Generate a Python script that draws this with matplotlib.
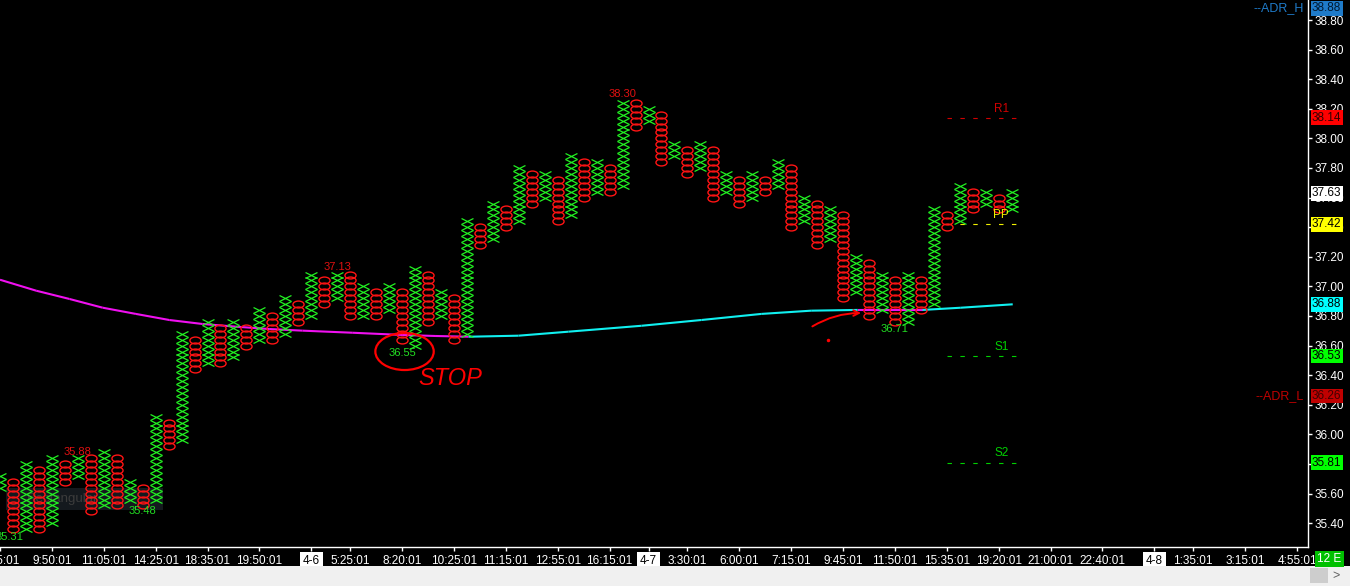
import numpy as np
import matplotlib
matplotlib.use("Agg")
import matplotlib.pyplot as plt
from matplotlib.path import Path
from matplotlib.transforms import Affine2D, blended_transform_factory
from matplotlib.patches import Ellipse, Rectangle

plt.rcParams["font.family"] = ["Liberation Sans", "DejaVu Sans"]

# ── data ─────────────────────────────────────────────────────
BOX = 0.04          # box size
FIRST_COL = -1      # first column (X), then alternating O / X

col_low = [35.64, 35.36, 35.36, 35.36, 35.40, 35.68, 35.72, 35.48, 35.52, 35.52,
           35.56, 35.52, 35.56, 35.92, 35.96, 36.44, 36.48, 36.48, 36.52, 36.60,
           36.64, 36.64, 36.68, 36.76, 36.80, 36.88, 36.92, 36.80, 36.80, 36.80,
           36.84, 36.64, 36.60, 36.76, 36.80, 36.64, 36.68, 37.28, 37.32, 37.40,
           37.44, 37.56, 37.60, 37.44, 37.48, 37.60, 37.64, 37.64, 37.68, 38.08,
           38.12, 37.84, 37.88, 37.76, 37.80, 37.60, 37.64, 37.56, 37.60, 37.64,
           37.68, 37.40, 37.44, 37.28, 37.32, 36.92, 36.96, 36.80, 36.84, 36.76,
           36.76, 36.84, 36.88, 37.40, 37.44, 37.52, 37.56, 37.52, 37.52]
col_high = [35.72, 35.68, 35.80, 35.76, 35.84, 35.80, 35.84, 35.84, 35.88, 35.84,
            35.68, 35.64, 36.12, 36.08, 36.68, 36.64, 36.76, 36.72, 36.76, 36.72,
            36.84, 36.80, 36.92, 36.88, 37.08, 37.04, 37.08, 37.08, 37.00, 36.96,
            37.00, 36.96, 37.12, 37.08, 36.96, 36.92, 37.44, 37.40, 37.56, 37.52,
            37.80, 37.76, 37.76, 37.72, 37.88, 37.84, 37.84, 37.80, 38.24, 38.24,
            38.20, 38.16, 37.96, 37.92, 37.96, 37.92, 37.76, 37.72, 37.76, 37.72,
            37.84, 37.80, 37.60, 37.56, 37.52, 37.48, 37.20, 37.16, 37.08, 37.04,
            37.08, 37.04, 37.52, 37.48, 37.68, 37.64, 37.64, 37.60, 37.64]

# swing high / low labels
swing_cols = [-0.25, 5, 10, 25, 30, 47, 68]
swing_vals = [35.31, 35.88, 35.48, 37.13, 36.55, 38.30, 36.71]
swing_high = [False, True, False, True, False, True, False]

# moving average
ma_cols = [-1.0, 1.79, 4.36, 6.92, 9.48, 12.05, 14.62, 17.18, 19.75, 22.31,
           26.15, 30.0, 32.54, 35.13, 38.98, 42.82, 48.46, 53.08, 57.69, 61.54,
           65.13, 70.13, 73.08, 77.08]
ma_vals = [37.045, 36.971, 36.915, 36.856, 36.814, 36.773, 36.746, 36.728, 36.712, 36.701,
           36.687, 36.672, 36.665, 36.660, 36.667, 36.694, 36.734, 36.773, 36.814, 36.836,
           36.841, 36.841, 36.856, 36.879]

# pivot levels
level_names = ["R1", "PP", "S1", "S2"]
level_vals = [38.14, 37.42, 36.53, 35.81]
level_span = (72, 77.5)

# price tags on the right axis
tag_vals = [38.88, 38.14, 37.63, 37.42, 36.88, 36.53, 36.26, 35.81]

y_ticks = [35.40, 35.60, 35.80, 36.00, 36.20, 36.40, 36.60, 36.80, 37.00,
           37.20, 37.40, 37.60, 37.80, 38.00, 38.20, 38.40, 38.60, 38.80]
x_tick_cols = [-1, 3, 7, 11, 15, 19, 23, 26, 30, 34, 38, 42, 46, 49, 52, 56,
               60, 64, 68, 72, 76, 80, 84, 88, 91, 95, 99]
x_tick_labels = ["8:35:01", "9:50:01", "11:05:01", "14:25:01", "18:35:01", "19:50:01",
                 "4-6", "5:25:01", "8:20:01", "10:25:01", "11:15:01", "12:55:01",
                 "16:15:01", "4-7", "3:30:01", "6:00:01", "7:15:01", "9:45:01",
                 "11:50:01", "15:35:01", "19:20:01", "21:00:01", "22:40:01", "4-8",
                 "1:35:01", "3:15:01", "4:55:01"]

# ── style ────────────────────────────────────────────────────
C = {
    "x": "#22F022",
    "o": "#FF1414",
    "lbl_red": "#E01010",
    "lbl_green": "#22DD22",
    "magenta": "#F010F0",
    "cyan": "#10F0F0",
    "axis": "#FFFFFF",
}
tag_style = {
    38.88: ("#1F7BC9", "#001830"),
    38.14: ("#FF0000", "#300000"),
    37.63: ("#FFFFFF", "#000000"),
    37.42: ("#FFFF00", "#000000"),
    36.88: ("#00FFFF", "#000000"),
    36.53: ("#00FF00", "#000000"),
    36.26: ("#C00000", "#400000"),
    35.81: ("#00FF00", "#000000"),
}
level_color = {"R1": "#D00000", "PP": "#F0F000", "S1": "#00D000", "S2": "#00D000"}

X_MARK = Path([(-1, -0.5), (1, 0.5), (-1, 0.5), (1, -0.5)],
              [Path.MOVETO, Path.LINETO, Path.MOVETO, Path.LINETO])
O_MARK = Path.unit_circle().transformed(Affine2D().scale(1, 0.62))

W, H = 1350, 586
fig = plt.figure(figsize=(W / 100, H / 100), dpi=100, facecolor="black")
ax = fig.add_axes([0, 39 / H, 1308 / W, 547 / H])
ax.set_facecolor("black")
ax.set_xlim(-10 / 13, 1298 / 13)
ax.set_ylim(38.80 - 527 / 148, 38.80 + 20 / 148)

# faint leftover tooltip box
ax.add_patch(Rectangle((-0.55, 35.49), 12.1, 0.15, fc="#14191e", ec="none", zorder=1))
ax.text(1.1, 35.565, "Rectangular", color="#3c3c3c", fontsize=9.5, va="center", zorder=1.5)

# ── point & figure columns ───────────────────────────────────
for i, (lo, hi) in enumerate(zip(col_low, col_high)):
    col = FIRST_COL + i
    n = int(round((hi - lo) / BOX)) + 1
    ys = lo + BOX * np.arange(n)
    if i % 2 == 0:
        ax.plot(np.full(n, col), ys, ls="none", marker=X_MARK, ms=8.6,
                mec=C["x"], mfc="none", mew=0.9, zorder=3)
    else:
        ax.plot(np.full(n, col), ys, ls="none", marker=O_MARK, ms=8.0,
                mec=C["o"], mfc="none", mew=1.0, zorder=3)

for c, v, hi in zip(swing_cols, swing_vals, swing_high):
    ax.text(c, v, f"{v:.2f}", ha="center", va="center", fontsize=8,
            color=C["lbl_red"] if hi else C["lbl_green"], zorder=4)

# ── moving average, coloured by slope ────────────────────────
for k in range(len(ma_cols) - 1):
    rising = ma_vals[k + 1] > ma_vals[k]
    ax.plot(ma_cols[k:k + 2], ma_vals[k:k + 2], lw=1.5,
            color=C["cyan"] if rising else C["magenta"],
            solid_capstyle="butt", zorder=2)

# ── pivot levels ─────────────────────────────────────────────
for name, v in zip(level_names, level_vals):
    col = level_color[name]
    ax.plot(level_span, [v, v], color=col, lw=0.8, dashes=(4.0, 7.6), zorder=2)
    ax.annotate(name, (76.2, v), xytext=(0, 6.5), textcoords="offset points",
                ha="center", va="center", fontsize=8.5, color=col)

# ── hand drawn notes ─────────────────────────────────────────
ax.add_patch(Ellipse((30.19, 36.56), 4.5, 0.25, fill=False, ec="#FF0000", lw=1.6, zorder=5))
ax.text(33.7, 36.38, "STOP", color="#FF0000", fontsize=17, style="italic",
        ha="center", va="center", zorder=5)
ax.annotate("", xy=(65.6, 36.82), xytext=(61.45, 36.72),
            arrowprops=dict(arrowstyle="->", color="#FF0000", lw=1.4,
                            connectionstyle="arc3,rad=-0.15"), zorder=5)
ax.plot([62.8], [36.636], "o", ms=1.5, color="#FF0000", zorder=5)

# ── axes ─────────────────────────────────────────────────────
for s in ["left", "top"]:
    ax.spines[s].set_visible(False)
for s in ["right", "bottom"]:
    ax.spines[s].set_color(C["axis"])
    ax.spines[s].set_linewidth(1)

ax.yaxis.tick_right()
ax.set_yticks(y_ticks)
ax.set_yticklabels([f"{v:.2f}" for v in y_ticks])
ax.set_xticks(x_tick_cols)
ax.set_xticklabels(x_tick_labels)
ax.tick_params(axis="both", colors=C["axis"], labelsize=8.5, length=3, width=1, pad=1.5)
ax.tick_params(axis="x", pad=3)
for lbl in ax.get_xticklabels():
    if "-" in lbl.get_text():
        lbl.set_color("black")
        lbl.set_bbox(dict(boxstyle="square,pad=0.25", fc="white", ec="none"))

# price tags over the right axis
tr = blended_transform_factory(ax.transAxes, ax.transData)
for v in tag_vals:
    bg, fg = tag_style[v]
    ax.text(1 + 4 / 1308, v, f"{v:.2f}", transform=tr, ha="left", va="center",
            fontsize=8.5, color=fg, clip_on=False, zorder=10,
            bbox=dict(boxstyle="square,pad=0.12", fc=bg, ec="none"))
ax.text(1 - 4 / 1308, 38.88, "--ADR_H", transform=tr, ha="right", va="center",
        fontsize=9, color="#1F7BC9", clip_on=False)
ax.text(1 - 4 / 1308, 36.26, "--ADR_L", transform=tr, ha="right", va="center",
        fontsize=9, color="#C00000", clip_on=False)

# window chrome at the bottom
fig.add_artist(Rectangle((0, 0), 1, 20 / H, transform=fig.transFigure,
                         fc="#F0F0F0", ec="none"))
fig.add_artist(Rectangle((1310 / W, 3 / H), 18 / W, 15 / H, transform=fig.transFigure,
                         fc="#CDCDCD", ec="none"))
fig.text(1336 / W, 10 / H, ">", color="#606060", fontsize=9, ha="center", va="center")
fig.text(1329.5 / W, 27 / H, "12 E", color="white", fontsize=8.5, ha="center", va="center",
         bbox=dict(boxstyle="square,pad=0.2", fc="#00C000", ec="none"))

fig.savefig("out.png", dpi=100, facecolor="black")
